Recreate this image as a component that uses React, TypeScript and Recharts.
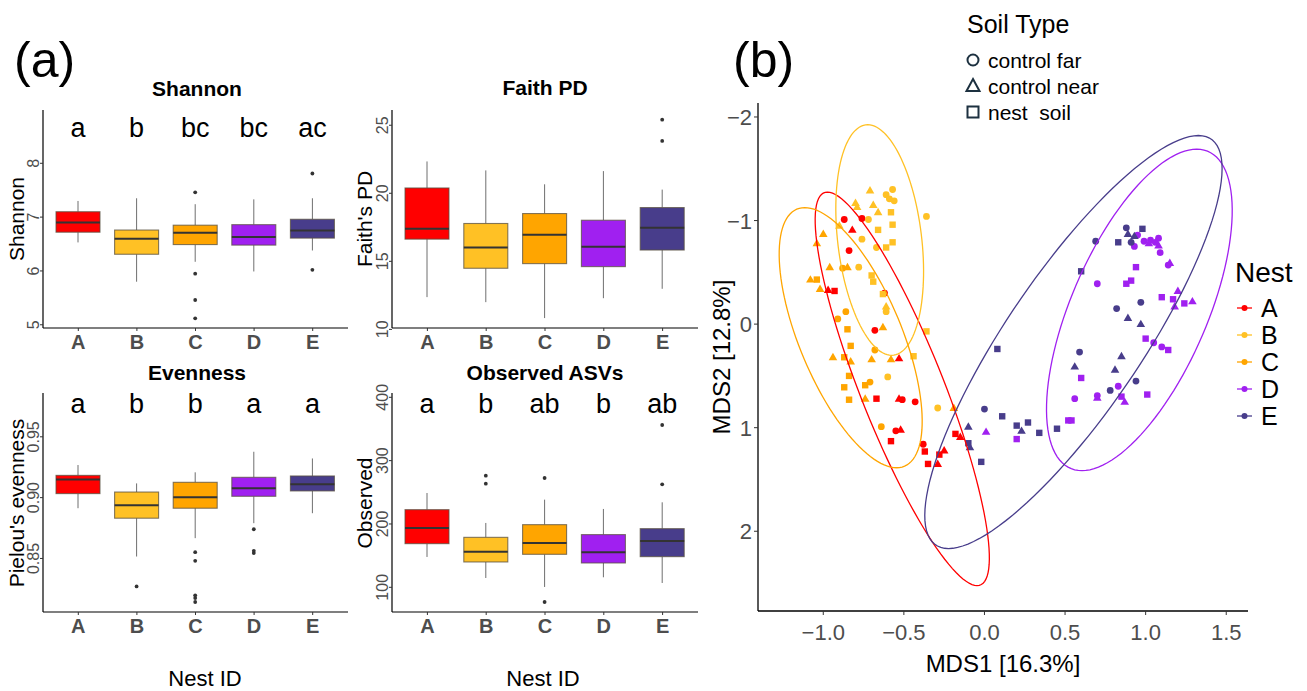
import React from 'react';
import { ComposedChart, Bar, XAxis, YAxis, ScatterChart, Scatter } from 'recharts';

const FONT = '"Liberation Sans", Arial, Helvetica, sans-serif';

const nests = ['A', 'B', 'C', 'D', 'E'];
const nestColors = ['#FF0000', '#FFC125', '#FFA500', '#A020F0', '#483D8B'];

// box stats per nest: [lower whisker, q1, median, q3, upper whisker]
const shannonStats = [
  [6.53, 6.72, 6.9, 7.1, 7.3],
  [5.8, 6.31, 6.6, 6.76, 7.35],
  [6.17, 6.49, 6.71, 6.85, 7.24],
  [5.99, 6.48, 6.63, 6.86, 7.33],
  [6.38, 6.61, 6.75, 6.96, 7.35],
];
const shannonOutliers = [[], [], [7.46, 5.95, 5.46, 5.12], [], [7.81, 6.02]];
const shannonLetters = ['a', 'b', 'bc', 'bc', 'ac'];

const faithStats = [
  [12.37, 16.63, 17.39, 20.39, 22.34],
  [12.0, 14.49, 16.02, 17.78, 21.68],
  [10.83, 14.83, 16.95, 18.51, 20.66],
  [12.29, 14.61, 16.07, 18.02, 21.63],
  [12.98, 15.83, 17.46, 18.95, 20.27],
];
const faithOutliers = [[], [], [], [], [25.41, 23.85]];

const evennessStats = [
  [0.8913, 0.9033, 0.915, 0.9183, 0.9268],
  [0.8516, 0.8831, 0.8937, 0.9046, 0.9117],
  [0.8667, 0.8913, 0.9003, 0.9126, 0.9208],
  [0.879, 0.9011, 0.9077, 0.9167, 0.9377],
  [0.8872, 0.9055, 0.9109, 0.9178, 0.9322],
];
const evennessOutliers = [[], [0.827], [0.8552, 0.8481, 0.8197, 0.8175, 0.8142], [0.874, 0.8563, 0.8544], []];
const evennessLetters = ['a', 'b', 'b', 'a', 'a'];

const observedStats = [
  [147.9, 168.9, 193.7, 222.6, 248.9],
  [114.7, 140.0, 156.3, 178.9, 201.6],
  [100.5, 152.1, 170.0, 198.9, 238.4],
  [115.8, 138.4, 155.3, 183.2, 223.7],
  [106.8, 148.4, 173.2, 192.6, 234.2],
];
const observedOutliers = [[], [276.3, 263.7], [272.6, 76.8], [], [356.3, 262.6]];
const observedLetters = ['a', 'b', 'ab', 'b', 'ab'];

// MDS points: [MDS1, MDS2, soil type] ; 0 control far, 1 control near, 2 nest soil
const nestA = [
  [-0.87, -1.01, 0], [-0.76, -1.02, 0], [-0.82, -0.91, 1], [-0.84, -0.71, 0], [-0.97, -0.33, 1],
  [-0.93, -0.32, 2], [-0.62, -0.3, 0], [-0.68, 0.06, 0], [-0.53, 0.33, 1], [-0.67, 0.72, 2],
  [-0.53, 0.72, 1], [-0.51, 0.73, 0], [-0.43, 0.75, 0], [-0.55, 1.03, 0], [-0.52, 1.02, 1],
  [-0.58, 1.13, 2], [-0.38, 1.16, 0], [-0.37, 1.23, 2], [-0.35, 1.35, 2], [-0.29, 1.35, 1],
  [-0.28, 1.26, 2], [-0.25, 1.22, 1], [-0.18, 1.06, 2], [-0.15, 1.09, 1],
];
const nestB = [
  [-0.71, -1.29, 1], [-0.57, -1.3, 0], [-0.61, -1.25, 0], [-0.59, -1.21, 0], [-0.56, -1.19, 0],
  [-0.8, -1.17, 1], [-0.79, -1.13, 1], [-0.69, -1.15, 1], [-0.66, -1.08, 1], [-0.58, -1.08, 2],
  [-0.72, -1.01, 0], [-0.57, -0.96, 2], [-0.66, -0.91, 2], [-0.76, -0.82, 0], [-0.57, -0.79, 2],
  [-0.61, -0.74, 2], [-0.67, -0.74, 0], [-0.36, -1.04, 0], [-0.9, -0.95, 1], [-0.78, -0.55, 0],
  [-0.7, -0.47, 2], [-0.69, -0.41, 2], [-0.63, -0.29, 2], [-0.61, -0.17, 1], [-0.61, -0.12, 0],
  [-0.36, 0.07, 2], [-0.44, 0.31, 2], [-0.6, 0.51, 0], [-0.29, 0.81, 0],
];
const nestC = [
  [-1.0, -0.87, 1], [-1.04, -0.78, 1], [-0.96, -0.55, 1], [-0.88, -0.54, 0], [-0.85, -0.55, 1],
  [-1.08, -0.43, 1], [-1.04, -0.43, 2], [-1.02, -0.34, 1], [-0.86, -0.12, 0], [-0.91, -0.05, 0],
  [-0.85, 0.05, 2], [-0.83, 0.21, 2], [-0.94, 0.32, 1], [-0.87, 0.32, 2], [-0.83, 0.36, 1],
  [-0.7, 0.34, 1], [-0.68, 0.25, 0], [-0.84, 0.5, 2], [-0.63, 0.03, 1], [-0.58, 0.34, 1],
  [-0.87, 0.61, 2], [-0.71, 0.56, 0], [-0.74, 0.59, 2], [-0.84, 0.73, 2], [-0.74, 0.72, 1],
  [-0.64, 0.99, 0], [-0.19, 0.81, 1],
];
const nestD = [
  [0.95, -0.86, 0], [0.99, -0.8, 0], [1.03, -0.81, 0], [1.08, -0.83, 0], [1.06, -0.79, 0],
  [0.93, -0.75, 0], [1.02, -0.78, 1], [1.08, -0.76, 1], [1.09, -0.69, 0], [1.14, -0.57, 0],
  [1.15, -0.59, 1], [0.94, -0.55, 2], [0.91, -0.42, 2], [0.88, -0.39, 2], [0.7, -0.39, 0],
  [1.1, -0.26, 2], [1.17, -0.24, 2], [1.2, -0.32, 1], [1.18, -0.17, 1], [1.24, -0.2, 2],
  [1.29, -0.22, 1], [1.0, 0.14, 2], [1.05, 0.18, 0], [1.1, 0.22, 0], [1.14, 0.25, 2],
  [0.6, 0.52, 2], [0.83, 0.6, 0], [0.56, 0.72, 0], [0.7, 0.71, 1], [0.7, 0.69, 0],
  [0.85, 0.7, 2], [0.87, 0.75, 1], [1.01, 0.68, 2], [0.52, 0.93, 2], [0.54, 0.93, 2],
  [0.01, 1.04, 1], [0.2, 1.11, 2],
];
const nestE = [
  [0.88, -0.93, 0], [0.89, -0.87, 1], [0.98, -0.92, 2], [0.93, -0.85, 1], [0.91, -0.79, 0],
  [0.83, -0.79, 2], [0.69, -0.8, 0], [0.6, -0.51, 2], [0.82, -0.15, 0], [0.97, -0.21, 0],
  [0.89, -0.06, 1], [0.97, 0.0, 1], [0.59, 0.27, 0], [0.85, 0.31, 1], [0.56, 0.41, 1],
  [0.81, 0.44, 1], [0.78, 0.64, 0], [0.94, 0.55, 0], [0.08, 0.24, 2], [0.0, 0.82, 0],
  [0.11, 0.89, 2], [0.2, 0.98, 2], [0.27, 0.95, 2], [0.34, 1.05, 2], [0.45, 1.01, 2],
  [0.23, 1.03, 1], [-0.1, 0.99, 1], [-0.1, 1.15, 2], [-0.09, 1.19, 1], [-0.02, 1.33, 2],
];

// 95% ellipses: centre, half-diameter to lowest point, horizontal half-width
const ellCenterX = [-0.51, -0.65, -0.83, 0.961, 0.552];
const ellCenterY = [0.625, -0.812, 0.131, -0.137, 0.173];
const ellAxisX = [0.464, 0.074, 0.285, -0.356, -0.775];
const ellAxisY = [1.9, 1.113, 1.256, 1.552, 1.994];
const ellHalfWidth = [0.277, 0.262, 0.34, 0.453, 0.5];

const soilLabels = ['control far', 'control near', 'nest  soil'];

const allNestPoints = [nestA, nestB, nestC, nestD, nestE];

function ellipsePoints(i: number) {
  const pts = [];
  for (let k = 0; k <= 120; k++) {
    const t = (k / 120) * Math.PI * 2;
    pts.push({
      x: ellCenterX[i] + ellAxisX[i] * Math.cos(t) + ellHalfWidth[i] * Math.sin(t),
      y: ellCenterY[i] + ellAxisY[i] * Math.cos(t),
    });
  }
  return pts;
}

function BoxShape(props: any) {
  const { x, y, width, height, payload } = props;
  const top = Math.min(y, y + height);
  const h = Math.abs(height);
  const k = h / (payload.q3 - payload.q1);
  const toY = (v: number) => top + (payload.q3 - v) * k;
  const cx = x + width / 2;
  return (
    <g>
      <line x1={cx} x2={cx} y1={toY(payload.hi)} y2={toY(payload.q3)} stroke="#6f6f6f" strokeWidth={1} />
      <line x1={cx} x2={cx} y1={toY(payload.q1)} y2={toY(payload.lo)} stroke="#6f6f6f" strokeWidth={1} />
      <rect x={x} y={top} width={width} height={h} fill={payload.color} stroke="#5a5040" strokeOpacity={0.75} strokeWidth={1.1} />
      <line x1={x} x2={x + width} y1={toY(payload.med)} y2={toY(payload.med)} stroke="#333" strokeWidth={2} />
      {payload.out.map((v: number, j: number) => (
        <circle key={j} cx={cx} cy={toY(v)} r={1.9} fill="#333" />
      ))}
      {payload.letter ? (
        <text x={cx} y={toY(payload.letterY)} textAnchor="middle" fontSize={27} fontFamily={FONT} fill="#000">
          {payload.letter}
        </text>
      ) : null}
    </g>
  );
}

function RotTick(props: any) {
  const { x, y, payload, fmt } = props;
  return (
    <text x={x + 1} y={y} transform={`rotate(-90 ${x + 1} ${y})`} textAnchor="middle" fontSize={16} fill="#4D4D4D" fontFamily={FONT}>
      {fmt(payload.value)}
    </text>
  );
}

function CatTick(props: any) {
  const { x, y, payload } = props;
  return (
    <text x={x} y={y} dy={16} textAnchor="middle" fontSize={20} fontWeight="bold" fill="#4D4D4D" fontFamily={FONT}>
      {payload.value}
    </text>
  );
}

function BoxPanel(p: any) {
  const rows = nests.map((n, i) => ({
    nest: n,
    lo: p.stats[i][0],
    q1: p.stats[i][1],
    med: p.stats[i][2],
    q3: p.stats[i][3],
    hi: p.stats[i][4],
    out: p.outliers[i],
    letter: p.letters ? p.letters[i] : '',
    letterY: p.letterY,
    color: nestColors[i],
  }));
  return (
    <div style={{ position: 'absolute', left: p.left, top: p.top }}>
      <ComposedChart width={352} height={p.height} data={rows} margin={{ top: p.marginTop, right: 4, left: 0, bottom: 0 }}>
        <XAxis
          dataKey="nest"
          type="category"
          height={p.xAxisHeight}
          padding={{ left: 6, right: 6 }}
          tickSize={3}
          axisLine={{ stroke: '#000', strokeWidth: 1.2 }}
          tickLine={{ stroke: '#333' }}
          tick={<CatTick />}
          interval={0}
        />
        <YAxis
          type="number"
          width={p.yAxisWidth}
          domain={p.domain}
          ticks={p.ticks}
          allowDataOverflow
          tickSize={3}
          axisLine={{ stroke: '#000', strokeWidth: 1.2 }}
          tickLine={{ stroke: '#333' }}
          tick={<RotTick fmt={p.fmt} />}
        />
        <Bar dataKey={(d: any) => [d.q1, d.q3]} barSize={44} shape={<BoxShape />} isAnimationActive={false} />
      </ComposedChart>
    </div>
  );
}

function Marker(props: any) {
  const { cx, cy, payload, color } = props;
  if (cx == null || cy == null) return <g />;
  if (payload.s === 0) return <circle cx={cx} cy={cy} r={3.4} fill={color} />;
  if (payload.s === 1)
    return <path d={`M${cx},${cy - 4.4} L${cx + 4.3},${cy + 3} L${cx - 4.3},${cy + 3} Z`} fill={color} />;
  return <rect x={cx - 3.2} y={cy - 3.2} width={6.4} height={6.4} fill={color} />;
}

const signed = (v: number, d: number) => (v < 0 ? '\u2212' : '') + Math.abs(v).toFixed(d);

function XTickB(props: any) {
  const { x, y, payload } = props;
  return (
    <text x={x} y={y} dy={23} textAnchor="middle" fontSize={22} fill="#4D4D4D" fontFamily={FONT}>
      {signed(payload.value, 1)}
    </text>
  );
}

function YTickB(props: any) {
  const { x, y, payload } = props;
  return (
    <text x={x} y={y} dy={8} textAnchor="end" fontSize={22} fill="#4D4D4D" fontFamily={FONT}>
      {signed(payload.value, 0)}
    </text>
  );
}

function MdsPanel() {
  return (
    <div style={{ position: 'absolute', left: 700, top: 0 }}>
      <ScatterChart width={607} height={691} margin={{ top: 103, right: 59, left: 0, bottom: 0 }}>
        <XAxis
          type="number"
          dataKey="x"
          domain={[-1.405, 1.635]}
          ticks={[-1, -0.5, 0, 0.5, 1, 1.5]}
          allowDataOverflow
          height={80}
          tickSize={4}
          axisLine={{ stroke: '#000', strokeWidth: 1.3 }}
          tickLine={{ stroke: '#333' }}
          tick={<XTickB />}
        />
        <YAxis
          type="number"
          dataKey="y"
          reversed
          domain={[-2.135, 2.77]}
          ticks={[-2, -1, 0, 1, 2]}
          allowDataOverflow
          width={58}
          tickSize={4}
          axisLine={{ stroke: '#000', strokeWidth: 1.3 }}
          tickLine={{ stroke: '#333' }}
          tick={<YTickB />}
        />
        {allNestPoints.map((pts, i) => (
          <Scatter
            key={'p' + i}
            data={pts.map(([x, y, s]) => ({ x, y, s }))}
            shape={(sp: any) => <Marker {...sp} color={nestColors[i]} />}
            isAnimationActive={false}
          />
        ))}
        {nests.map((n, i) => (
          <Scatter
            key={'e' + n}
            data={ellipsePoints(i)}
            line={{ stroke: nestColors[i], strokeWidth: 1.3 }}
            lineType="joint"
            shape={() => <g />}
            isAnimationActive={false}
          />
        ))}
      </ScatterChart>
    </div>
  );
}

function Overlay() {
  const soilY = [60, 86, 112];
  const nestY = [308, 335, 362, 389, 416];
  const symColor = '#1d3140';
  return (
    <svg width={1307} height={691} style={{ position: 'absolute', left: 0, top: 0, pointerEvents: 'none' }} fontFamily={FONT}>
      <text x={14} y={77} fontSize={50}>(a)</text>
      <text x={733} y={77} fontSize={50}>(b)</text>

      <text x={197} y={96} fontSize={21} fontWeight="bold" textAnchor="middle">Shannon</text>
      <text x={545} y={95} fontSize={21} fontWeight="bold" textAnchor="middle">Faith PD</text>
      <text x={197} y={380} fontSize={21} fontWeight="bold" textAnchor="middle">Evenness</text>
      <text x={545} y={380} fontSize={21} fontWeight="bold" textAnchor="middle">Observed ASVs</text>

      <text x={24} y={219} fontSize={21} textAnchor="middle" transform="rotate(-90 24 219)">Shannon</text>
      <text x={372} y={219} fontSize={21} textAnchor="middle" transform="rotate(-90 372 219)">Faith's PD</text>
      <text x={24} y={503} fontSize={21} textAnchor="middle" transform="rotate(-90 24 503)">Pielou's evenness</text>
      <text x={372} y={503} fontSize={21} textAnchor="middle" transform="rotate(-90 372 503)">Observed</text>

      <text x={205} y={686} fontSize={22} textAnchor="middle">Nest ID</text>
      <text x={543} y={686} fontSize={22} textAnchor="middle">Nest ID</text>

      <text x={1003} y={672} fontSize={24} textAnchor="middle">MDS1 [16.3%]</text>
      <text x={730} y={357} fontSize={24} textAnchor="middle" transform="rotate(-90 730 357)">MDS2 [12.8%]</text>

      <text x={967} y={33} fontSize={25}>Soil Type</text>
      <circle cx={973} cy={soilY[0]} r={5.5} fill="none" stroke={symColor} strokeWidth={2} />
      <path d={`M973,${soilY[1] - 7} L979.5,${soilY[1] + 5} L966.5,${soilY[1] + 5} Z`} fill="none" stroke={symColor} strokeWidth={2} />
      <rect x={967.5} y={soilY[2] - 5.5} width={11} height={11} fill="none" stroke={symColor} strokeWidth={2} />
      {soilLabels.map((l, i) => (
        <text key={l} x={988} y={soilY[i] + 7.5} fontSize={21} style={{ whiteSpace: 'pre' }}>{l}</text>
      ))}

      <text x={1235} y={282} fontSize={28}>Nest</text>
      {nests.map((n, i) => (
        <g key={n}>
          <line x1={1237} x2={1252} y1={nestY[i]} y2={nestY[i]} stroke={nestColors[i]} strokeWidth={1.3} />
          <circle cx={1244.5} cy={nestY[i]} r={3} fill={nestColors[i]} />
          <text x={1261} y={nestY[i] + 9} fontSize={25}>{n}</text>
        </g>
      ))}
    </svg>
  );
}

export default function App() {
  return (
    <div style={{ position: 'relative', width: 1307, height: 691, background: '#fff', fontFamily: FONT, overflow: 'hidden' }}>
      <style>{'body{margin:0}'}</style>
      <BoxPanel left={0} top={0} height={362} marginTop={110} xAxisHeight={34} yAxisWidth={43}
        domain={[4.94, 8.99]} ticks={[5, 6, 7, 8]} fmt={(v: number) => String(v)}
        stats={shannonStats} outliers={shannonOutliers} letters={shannonLetters} letterY={8.49} />
      <BoxPanel left={350} top={0} height={362} marginTop={110} xAxisHeight={34} yAxisWidth={42}
        domain={[10.1, 26.12]} ticks={[10, 15, 20, 25]} fmt={(v: number) => String(v)}
        stats={faithStats} outliers={faithOutliers} letters={null} letterY={0} />
      <BoxPanel left={0} top={350} height={341} marginTop={43} xAxisHeight={79} yAxisWidth={43}
        domain={[0.806, 0.986]} ticks={[0.85, 0.9, 0.95]} fmt={(v: number) => v.toFixed(2)}
        stats={evennessStats} outliers={evennessOutliers} letters={evennessLetters} letterY={0.9694} />
      <BoxPanel left={350} top={350} height={341} marginTop={43} xAxisHeight={79} yAxisWidth={42}
        domain={[61, 406.8]} ticks={[100, 200, 300, 400]} fmt={(v: number) => String(v)}
        stats={observedStats} outliers={observedOutliers} letters={observedLetters} letterY={375.8} />
      <MdsPanel />
      <Overlay />
    </div>
  );
}
